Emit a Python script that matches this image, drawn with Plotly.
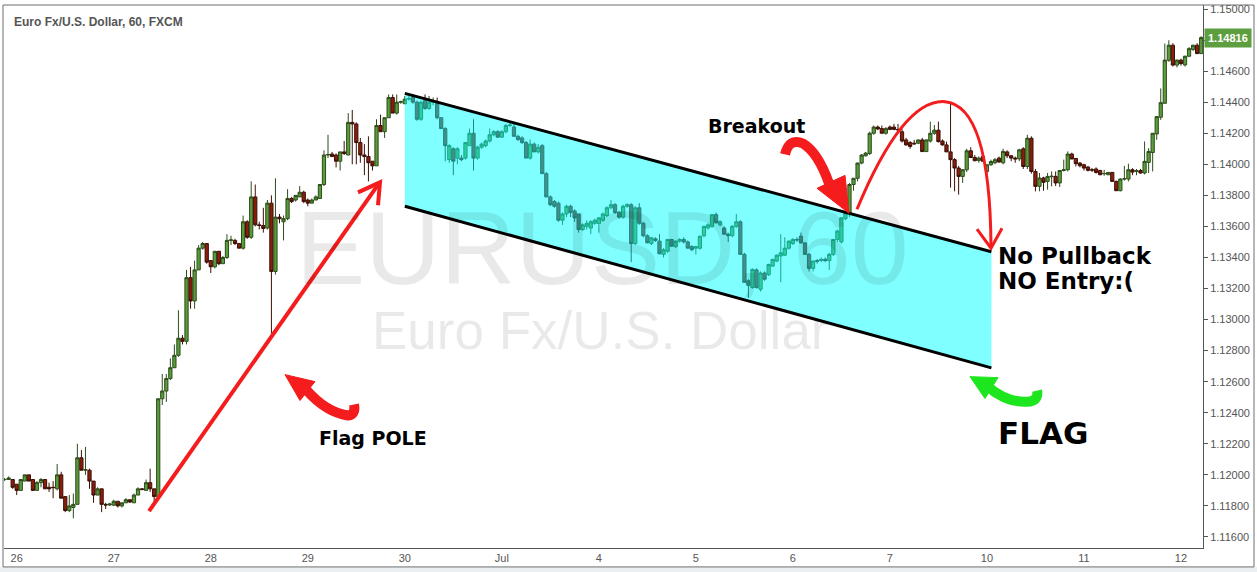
import plotly.graph_objects as go

# EURUSD hourly candles (one bar per hour, weekends removed)
open_ = [
    1.1197, 1.1197, 1.1197, 1.1194, 1.1190, 1.1196, 1.1200, 1.1197, 1.1190, 1.1195,
    1.1197, 1.1192, 1.1192, 1.1191, 1.1200, 1.1186, 1.1177, 1.1179, 1.1181, 1.1211,
    1.1203, 1.1203, 1.1196, 1.1187, 1.1191, 1.1181, 1.11806, 1.11805, 1.1183, 1.1180,
    1.1182, 1.1184, 1.1182, 1.1187, 1.1191, 1.1190, 1.1195, 1.1191, 1.1186, 1.1249,
    1.1254, 1.1262, 1.1269, 1.1277, 1.1288, 1.1286, 1.1327, 1.1312, 1.1332, 1.1346,
    1.1349, 1.1338, 1.1334, 1.1344, 1.1336, 1.1340, 1.1351, 1.1351, 1.1349, 1.1346,
    1.1363, 1.1353, 1.1379, 1.1361, 1.13606, 1.1359, 1.1375, 1.1331, 1.1366, 1.1363,
    1.1365, 1.1378, 1.1377, 1.1379, 1.1382, 1.1377, 1.1375, 1.1377, 1.1378, 1.1387,
    1.1406, 1.14066, 1.1406, 1.1402, 1.1408, 1.1406, 1.1427, 1.1426, 1.1414, 1.1406,
    1.1405, 1.1402, 1.1399, 1.1425, 1.1421, 1.1430, 1.1443, 1.1433, 1.1440, 1.1439,
    1.1442, 1.1443, 1.1440, 1.1429, 1.1441, 1.1436, 1.1440, 1.1440, 1.1430, 1.1423,
    1.1403, 1.1410, 1.1404, 1.1404, 1.1404, 1.1412, 1.1420, 1.1404, 1.1411, 1.1412,
    1.1415, 1.1419, 1.1421, 1.14175, 1.1421, 1.1425, 1.1424, 1.1418, 1.1417, 1.1414,
    1.1404, 1.1413, 1.1408, 1.1412, 1.1394, 1.1379, 1.1376, 1.1375, 1.1364, 1.1368,
    1.1373, 1.1370, 1.1368, 1.1358, 1.1360, 1.1359, 1.1362, 1.1362, 1.1364, 1.1367,
    1.1372, 1.1374, 1.1369, 1.1366, 1.1373, 1.1374, 1.1349, 1.1372, 1.1362, 1.1354,
    1.1349, 1.1352, 1.13505, 1.1342, 1.1344, 1.13516, 1.1347, 1.13505, 1.13516, 1.1350,
    1.1347, 1.1346, 1.1346, 1.1354, 1.1359, 1.1360, 1.13676, 1.1361, 1.1359, 1.1355,
    1.1354, 1.1360, 1.1363, 1.1342, 1.1325, 1.13206, 1.1332, 1.13195, 1.1330, 1.1329,
    1.13345, 1.13377, 1.1341, 1.13415, 1.1346, 1.1349, 1.13516, 1.13537, 1.13494, 1.1342,
    1.1333, 1.1338, 1.1338, 1.13388, 1.1338, 1.1342, 1.13516, 1.1350, 1.1365, 1.1368,
    1.1387, 1.1391, 1.14008, 1.14055, 1.1407, 1.1420, 1.1424, 1.1423, 1.1420, 1.1424,
    1.1424, 1.14225, 1.1421, 1.14157, 1.1414, 1.14136, 1.14136, 1.14157, 1.14082, 1.1415,
    1.1420, 1.1422, 1.1415, 1.14125, 1.1408, 1.1403, 1.13976, 1.13922, 1.13965, 1.14087,
    1.14044, 1.14025, 1.1405, 1.13954, 1.13997, 1.1401, 1.1404, 1.1401, 1.1408, 1.14055,
    1.1404, 1.14035, 1.1410, 1.13986, 1.14168, 1.13954, 1.13858, 1.13912, 1.1389, 1.1392,
    1.13922, 1.1388, 1.1396, 1.13965, 1.14066, 1.14038, 1.14008, 1.13997, 1.13982, 1.13965,
    1.1397, 1.1396, 1.13939, 1.13933, 1.13948, 1.1389, 1.1383, 1.13905, 1.13905, 1.13965,
    1.13954, 1.1396, 1.13944, 1.14012, 1.14076, 1.14196, 1.14303, 1.14393, 1.1467, 1.14767,
    1.14639, 1.14671, 1.1464, 1.14696, 1.1474, 1.14767, 1.14713,
]
high = [
    1.1198, 1.1199, 1.1197, 1.1194, 1.1197, 1.1200, 1.1200, 1.1197, 1.1196, 1.1198,
    1.1197, 1.1195, 1.1196, 1.1207, 1.1202, 1.1186, 1.1187, 1.1188, 1.1220, 1.1216,
    1.1218, 1.1204, 1.1196, 1.1192, 1.1191, 1.1182, 1.1182, 1.1184, 1.1183, 1.1182,
    1.1185, 1.1184, 1.1188, 1.1192, 1.11915, 1.1197, 1.1204, 1.1191, 1.1249, 1.1265,
    1.1265, 1.1275, 1.1284, 1.1306, 1.1290, 1.1332, 1.1334, 1.1338, 1.1348, 1.1350,
    1.1349, 1.1338, 1.1344, 1.1344, 1.1341, 1.1355, 1.1354, 1.1352, 1.1349, 1.1367,
    1.1364, 1.1389, 1.1387, 1.1363, 1.1372, 1.1377, 1.1380, 1.1391, 1.1368, 1.1367,
    1.1384, 1.1379, 1.1380, 1.1386, 1.1383, 1.1378, 1.1378, 1.1380, 1.1387, 1.1409,
    1.1419, 1.1408, 1.1407, 1.1408, 1.1415, 1.1433, 1.1435, 1.1427, 1.1417, 1.1413,
    1.1418, 1.1402, 1.1429, 1.1432, 1.1430, 1.1445, 1.1445, 1.1445, 1.1441, 1.1444,
    1.1444, 1.1445, 1.1441, 1.1441, 1.1445, 1.1444, 1.1443, 1.1443, 1.1430, 1.1424,
    1.1413, 1.1411, 1.1411, 1.1406, 1.1414, 1.1423, 1.1429, 1.1412, 1.1414, 1.1416,
    1.1423, 1.1422, 1.1422, 1.1422, 1.1426, 1.1427, 1.1426, 1.1419, 1.1418, 1.1415,
    1.1416, 1.1414, 1.1413, 1.1413, 1.1395, 1.1380, 1.1377, 1.1376, 1.1369, 1.1374,
    1.1374, 1.1371, 1.1368, 1.1362, 1.1364, 1.1364, 1.1365, 1.1366, 1.1369, 1.1373,
    1.1377, 1.1375, 1.1370, 1.1374, 1.1375, 1.1375, 1.1373, 1.1375, 1.1363, 1.1355,
    1.1353, 1.1353, 1.1355, 1.1346, 1.1352, 1.1352, 1.1351, 1.13525, 1.1353, 1.1351,
    1.1348, 1.13475, 1.1354, 1.13605, 1.1362, 1.1368, 1.1369, 1.1364, 1.1360, 1.1356,
    1.1361, 1.1368, 1.1364, 1.1343, 1.1326, 1.1333, 1.1333, 1.1331, 1.1331, 1.1336,
    1.1339, 1.1342, 1.1355, 1.1353, 1.1351, 1.13525, 1.1353, 1.1356, 1.1350, 1.1343,
    1.1338, 1.1339, 1.1340, 1.1340, 1.1343, 1.1352, 1.1358, 1.1366, 1.1369, 1.1388,
    1.1391, 1.1401, 1.14065, 1.1408, 1.1421, 1.1425, 1.1425, 1.1425, 1.1424, 1.1425,
    1.1426, 1.1426, 1.1423, 1.1417, 1.1415, 1.14157, 1.1416, 1.1417, 1.1416, 1.14275,
    1.14253, 1.14275, 1.1416, 1.14146, 1.1440, 1.1404, 1.1399, 1.1397, 1.1410, 1.1411,
    1.1406, 1.1405, 1.1406, 1.1400, 1.1403, 1.1404, 1.1405, 1.1410, 1.1409, 1.1406,
    1.1405, 1.1410, 1.1411, 1.1419, 1.1418, 1.1397, 1.13944, 1.1392, 1.13944, 1.13954,
    1.13954, 1.13961, 1.1403, 1.14083, 1.14075, 1.1404, 1.14015, 1.14004, 1.1399, 1.13976,
    1.1398, 1.13965, 1.13965, 1.1395, 1.1395, 1.13895, 1.1391, 1.1399, 1.14004, 1.13975,
    1.1397, 1.1397, 1.14147, 1.14104, 1.1420, 1.1431, 1.14489, 1.14778, 1.14799, 1.1478,
    1.14675, 1.1468, 1.1470, 1.14755, 1.1477, 1.1478, 1.14825,
]
low = [
    1.1196, 1.1197, 1.1191, 1.1187, 1.1190, 1.1196, 1.1196, 1.1190, 1.1190, 1.1192,
    1.1191, 1.1189, 1.1185, 1.1190, 1.1185, 1.1176, 1.1176, 1.1172, 1.1181, 1.1203,
    1.1200, 1.1191, 1.1182, 1.1187, 1.1176, 1.1178, 1.1180, 1.1180, 1.1179, 1.1179,
    1.1182, 1.1182, 1.1182, 1.1187, 1.1190, 1.1190, 1.1189, 1.1182, 1.1186, 1.1245,
    1.1247, 1.1261, 1.1269, 1.1276, 1.1284, 1.1284, 1.1307, 1.1307, 1.1332, 1.1345,
    1.1336, 1.1330, 1.1333, 1.1335, 1.1336, 1.1339, 1.1348, 1.1348, 1.1346, 1.1345,
    1.1352, 1.1352, 1.1360, 1.1358, 1.1356, 1.1358, 1.1291, 1.1329, 1.1362, 1.1351,
    1.1364, 1.1375, 1.1376, 1.1379, 1.1375, 1.1373, 1.1375, 1.1377, 1.1378, 1.1386,
    1.1404, 1.1405, 1.1398, 1.1396, 1.1406, 1.1406, 1.1400, 1.1400, 1.1401, 1.1393,
    1.1389, 1.1396, 1.1399, 1.1421, 1.1417, 1.1430, 1.1433, 1.1432, 1.1439, 1.1439,
    1.1441, 1.1439, 1.1428, 1.1428, 1.1435, 1.1435, 1.1438, 1.1429, 1.1423, 1.1402,
    1.1401, 1.1393, 1.1400, 1.1402, 1.1403, 1.1412, 1.1396, 1.1403, 1.1410, 1.1411,
    1.1414, 1.1418, 1.1417, 1.1417, 1.1420, 1.1424, 1.1418, 1.1415, 1.1413, 1.1404,
    1.1403, 1.1408, 1.1407, 1.1394, 1.1379, 1.1373, 1.1372, 1.1363, 1.1361, 1.1366,
    1.1366, 1.1363, 1.1356, 1.1357, 1.1358, 1.1355, 1.1361, 1.1356, 1.1363, 1.1366,
    1.1371, 1.1368, 1.1365, 1.1365, 1.1372, 1.1337, 1.1348, 1.1361, 1.1353, 1.1349,
    1.1348, 1.1350, 1.1342, 1.1340, 1.1343, 1.1347, 1.1346, 1.13495, 1.1349, 1.1346,
    1.1344, 1.1342, 1.1345, 1.1353, 1.1358, 1.1359, 1.1362, 1.1360, 1.1355, 1.1350,
    1.1353, 1.1359, 1.1342, 1.1324, 1.1314, 1.1320, 1.1320, 1.1318, 1.1325, 1.1328,
    1.1334, 1.1337, 1.1324, 1.1341, 1.1345, 1.1348, 1.1350, 1.1349, 1.1342, 1.1331,
    1.1331, 1.1336, 1.1337, 1.1337, 1.1332, 1.1341, 1.1350, 1.1349, 1.1364, 1.1366,
    1.1383, 1.1389, 1.1400, 1.1405, 1.1406, 1.1419, 1.1422, 1.1420, 1.1419, 1.1422,
    1.1422, 1.14205, 1.1414, 1.1412, 1.1410, 1.14125, 1.1413, 1.1408, 1.1408, 1.1414,
    1.1419, 1.1414, 1.1412, 1.1408, 1.1385, 1.13826, 1.13805, 1.1388, 1.1395, 1.1404,
    1.1402, 1.1401, 1.1402, 1.1394, 1.1399, 1.1400, 1.1401, 1.1400, 1.1404, 1.1402,
    1.1401, 1.1402, 1.1397, 1.1397, 1.1394, 1.13826, 1.13826, 1.1383, 1.13837, 1.13858,
    1.1386, 1.13854, 1.13954, 1.13954, 1.14034, 1.13986, 1.1398, 1.1396, 1.13954, 1.1395,
    1.1394, 1.1393, 1.13926, 1.1393, 1.1389, 1.1383, 1.13826, 1.13895, 1.1389, 1.1393,
    1.1393, 1.1394, 1.13935, 1.13944, 1.13954, 1.14158, 1.14286, 1.1439, 1.1466, 1.1463,
    1.14624, 1.14635, 1.1463, 1.1469, 1.1473, 1.1471, 1.1471,
]
close = [
    1.1197, 1.1198, 1.1192, 1.1190, 1.1197, 1.1200, 1.1196, 1.1190, 1.1195, 1.1197,
    1.1191, 1.1191, 1.11918, 1.1200, 1.1185, 1.1177, 1.1180, 1.1181, 1.1211, 1.1203,
    1.12034, 1.1196, 1.1187, 1.1191, 1.1181, 1.11806, 1.11812, 1.1183, 1.1180, 1.1182,
    1.1184, 1.11825, 1.1187, 1.1191, 1.11906, 1.1195, 1.1191, 1.1186, 1.1249, 1.1254,
    1.1262, 1.1269, 1.1277, 1.1288, 1.1286, 1.1327, 1.1312, 1.1332, 1.1346, 1.1349,
    1.1337, 1.1334, 1.1344, 1.1336, 1.1340, 1.1351, 1.13513, 1.1349, 1.1346, 1.1363,
    1.1353, 1.1379, 1.1361, 1.13606, 1.13587, 1.1375, 1.1331, 1.1366, 1.1365, 1.1365,
    1.1378, 1.1376, 1.1380, 1.1382, 1.1376, 1.1375, 1.1377, 1.1379, 1.1387, 1.1406,
    1.14063, 1.1405, 1.1402, 1.1408, 1.1407, 1.1427, 1.1426, 1.1414, 1.1406, 1.1405,
    1.1401, 1.1399, 1.1425, 1.1421, 1.1430, 1.1443, 1.1433, 1.1440, 1.14403, 1.1442,
    1.14423, 1.1440, 1.1429, 1.1440, 1.1436, 1.1440, 1.14403, 1.1430, 1.1423, 1.1412,
    1.1412, 1.1402, 1.1410, 1.1403, 1.1414, 1.1420, 1.1404, 1.1411, 1.1413, 1.1415,
    1.1419, 1.1421, 1.14175, 1.1421, 1.1425, 1.14253, 1.1418, 1.1416, 1.1414, 1.1404,
    1.1413, 1.1408, 1.1411, 1.1394, 1.1379, 1.1374, 1.1373, 1.1364, 1.1368, 1.1373,
    1.1369, 1.13655, 1.1358, 1.1361, 1.1362, 1.1363, 1.1364, 1.13655, 1.1368, 1.1372,
    1.1374, 1.1369, 1.1366, 1.1373, 1.1374, 1.1349, 1.1372, 1.1362, 1.1354, 1.13495,
    1.13527, 1.1351, 1.13424, 1.1345, 1.13516, 1.13473, 1.13505, 1.13516, 1.1350, 1.1346,
    1.1345, 1.1347, 1.13537, 1.1360, 1.1361, 1.13676, 1.13623, 1.1363, 1.1355, 1.1354,
    1.1360, 1.1363, 1.1342, 1.1324, 1.1322, 1.13323, 1.13206, 1.1330, 1.1326, 1.13355,
    1.13388, 1.13415, 1.1343, 1.1346, 1.13505, 1.13516, 1.13513, 1.13494, 1.1342, 1.1333,
    1.13377, 1.13376, 1.13388, 1.1338, 1.1342, 1.13516, 1.1357, 1.13655, 1.13687, 1.1387,
    1.1391, 1.14008, 1.1406, 1.14072, 1.1420, 1.1424, 1.14228, 1.1420, 1.1423, 1.14225,
    1.14225, 1.14222, 1.1415, 1.14125, 1.14115, 1.14132, 1.14157, 1.14082, 1.14157, 1.1420,
    1.1422, 1.14146, 1.14125, 1.1408, 1.1403, 1.13976, 1.13922, 1.13965, 1.14087, 1.14044,
    1.14023, 1.1404, 1.1402, 1.13997, 1.14018, 1.1403, 1.14015, 1.14083, 1.14055, 1.1404,
    1.14035, 1.14093, 1.13986, 1.14168, 1.13954, 1.13858, 1.13912, 1.13884, 1.13922, 1.13923,
    1.1388, 1.1396, 1.13965, 1.14066, 1.14034, 1.14004, 1.13991, 1.13976, 1.13961, 1.13963,
    1.13948, 1.13933, 1.13941, 1.13948, 1.1389, 1.1383, 1.13905, 1.13907, 1.13965, 1.1395,
    1.13958, 1.13944, 1.14019, 1.14083, 1.1420, 1.14307, 1.14397, 1.14671, 1.14767, 1.14639,
    1.14671, 1.14649, 1.14696, 1.14745, 1.14767, 1.14713, 1.14816,
]
bar = list(range(len(close)))

day_bars = [3, 27, 51, 75, 99, 123, 147, 171, 195, 219, 243, 267, 291]
day_labels = ["26", "27", "28", "29", "30", "Jul", "4", "5", "6", "7", "10", "11", "12"]
price_ticks = [1.116, 1.118, 1.120, 1.122, 1.124, 1.126, 1.128, 1.130, 1.132,
               1.134, 1.136, 1.138, 1.140, 1.142, 1.144, 1.146, 1.148, 1.150]
last_price = 1.14816

# flag channel drawn by hand on the chart: (bar, price) at each end
flag_top = [(99.0, 1.14457), (244.1, 1.13437)]
flag_bottom = [(99.0, 1.13730), (244.1, 1.12689)]

W, H = 1257, 572
L, R, T, B = 4, 54, 3, 24
RED = "#f41c1c"
GREEN = "#1ee61e"
TXT = "DejaVu Sans"


def pt(x, y):
    # pixel position on the page -> paper coords
    return f"{(x - L) / (W - L - R):.5f},{(H - B - y) / (H - T - B):.5f}"


def px(x):
    return (x - L) / (W - L - R)


def py(y):
    return (H - B - y) / (H - T - B)


fig = go.Figure()
fig.add_trace(
    go.Candlestick(
        x=bar, open=open_, high=high, low=low, close=close,
        increasing=dict(line=dict(color="#2c4d1a", width=1), fillcolor="#5a9b3c"),
        decreasing=dict(line=dict(color="#3b1006", width=1), fillcolor="#8c1d0e"),
        whiskerwidth=0, hoverinfo="skip", showlegend=False,
    )
)

shapes = []
# flag body
(x0, y0), (x1, y1) = flag_top
(x2, y2), (x3, y3) = flag_bottom
shapes.append(dict(type="path", xref="x", yref="y", layer="above",
                   path=f"M{x0},{y0} L{x1},{y1} L{x3},{y3} L{x2},{y2} Z",
                   fillcolor="rgba(0,255,255,0.5)", line=dict(width=0)))
for (a, b), (c, d) in (flag_top, flag_bottom):
    shapes.append(dict(type="line", xref="x", yref="y", layer="above",
                       x0=a, y0=b, x1=c, y1=d, line=dict(color="black", width=3)))

# flag pole line with open arrow head
shapes.append(dict(type="line", xref="paper", yref="paper", x0=px(149), y0=py(511),
                   x1=px(379), y1=py(182), line=dict(color=RED, width=4)))
shapes.append(dict(type="path", xref="paper", yref="paper",
                   path=f"M{pt(358, 191)} L{pt(380, 181)} L{pt(378, 204)}",
                   line=dict(color=RED, width=4)))

# breakout arc
shapes.append(dict(type="path", xref="paper", yref="paper",
                   path=f"M{pt(857, 208)} Q{pt(903, 97)} {pt(945, 100)} Q{pt(990, 104)} {pt(991, 245)}",
                   line=dict(color=RED, width=3)))
shapes.append(dict(type="path", xref="paper", yref="paper",
                   path=f"M{pt(977, 228)} L{pt(991, 247)} L{pt(1002, 227)}",
                   line=dict(color=RED, width=3)))


def fat_arrow(body, head, color):
    shapes.append(dict(type="path", xref="paper", yref="paper", path=body,
                       line=dict(color=color, width=10)))
    shapes.append(dict(type="path", xref="paper", yref="paper", path=head,
                       fillcolor=color, line=dict(color=color, width=1)))


fat_arrow(f"M{pt(785, 153)} Q{pt(789, 136)} {pt(803, 142)} Q{pt(818, 151)} {pt(829, 182)}",
          f"M{pt(817, 187)} L{pt(845, 174)} L{pt(849, 212)} Z", RED)
fat_arrow(f"M{pt(306, 389)} Q{pt(326, 412)} {pt(348, 415)} Q{pt(356, 414)} {pt(354, 404)}",
          f"M{pt(285, 374)} L{pt(315, 381)} L{pt(300, 400)} Z", RED)
fat_arrow(f"M{pt(989, 387)} Q{pt(1008, 403)} {pt(1030, 401)} Q{pt(1039, 399)} {pt(1037, 390)}",
          f"M{pt(970, 376)} L{pt(998, 377)} L{pt(985, 398)} Z", GREEN)

# outer frame and bottom strip
shapes.append(dict(type="rect", xref="paper", yref="paper", x0=px(0), x1=px(W), y0=py(567), y1=py(H),
                   fillcolor="#eceff2", line=dict(width=0)))
shapes.append(dict(type="rect", xref="paper", yref="paper", x0=px(3), x1=px(1254), y0=py(3), y1=py(567),
                   line=dict(color="#6e6e6e", width=1)))

annotations = [
    dict(text="EURUSD, 60", x=px(602), y=py(247), font=dict(family="Liberation Sans", size=104, color="rgba(0,0,0,0.085)")),
    dict(text="Euro Fx/U.S. Dollar", x=px(600), y=py(330), font=dict(family="Liberation Sans", size=53, color="rgba(0,0,0,0.085)")),
    dict(text="Euro Fx/U.S. Dollar, 60, FXCM", x=px(12), y=py(20), xanchor="left",
         font=dict(family="Liberation Sans", size=12, color="#555555", weight="bold")),
    dict(text="Breakout", x=px(756), y=py(124), font=dict(family=TXT, size=19, color="black", weight="bold")),
    dict(text="Flag POLE", x=px(317), y=py(438), xanchor="left", font=dict(family=TXT, size=19, color="black", weight="bold")),
    dict(text="No Pullback", x=px(996), y=py(255), xanchor="left", font=dict(family=TXT, size=23, color="black", weight="bold")),
    dict(text="NO Entry:(", x=px(996), y=py(280), xanchor="left", font=dict(family=TXT, size=23, color="black", weight="bold")),
    dict(text="FLAG", x=px(996), y=py(433), xanchor="left", font=dict(family=TXT, size=31, color="black", weight="bold")),
]
for a in annotations:
    a.update(xref="paper", yref="paper", showarrow=False)
    a.setdefault("xanchor", "center")
    a["yanchor"] = "middle"
annotations.append(dict(text=f"{last_price:.5f}", xref="paper", yref="y", x=px(1204), y=last_price,
                        xanchor="left", yanchor="middle", showarrow=False, bgcolor="#5d9e3f",
                        borderpad=3, font=dict(family="Liberation Sans", size=11, color="white", weight="bold")))

fig.update_layout(
    width=W, height=H,
    margin=dict(l=L, r=R, t=T, b=B),
    paper_bgcolor="white", plot_bgcolor="white",
    showlegend=False, hovermode=False,
    boxgap=0.2, boxgroupgap=0,
    shapes=shapes, annotations=annotations,
    xaxis=dict(
        range=[-0.15, 296.45], rangeslider=dict(visible=False),
        tickmode="array", tickvals=day_bars, ticktext=day_labels,
        showgrid=False, zeroline=False, showline=True, linecolor="#555555",
        ticks="", tickfont=dict(family="Liberation Sans", size=11, color="#555555"),
    ),
    yaxis=dict(
        range=[1.11529, 1.15026], side="right",
        tickmode="array", tickvals=price_ticks, tickformat=".5f",
        showgrid=False, zeroline=False, showline=True, linecolor="#555555",
        ticks="outside", ticklen=4, tickcolor="#555555",
        tickfont=dict(family="Liberation Sans", size=11, color="#555555"),
    ),
)

# the page body has an 8px default margin; drop it so the chart sits at the window corner
fig.write_html("out.html", config={"displayModeBar": False},
               post_script="document.body.style.margin='0';")
